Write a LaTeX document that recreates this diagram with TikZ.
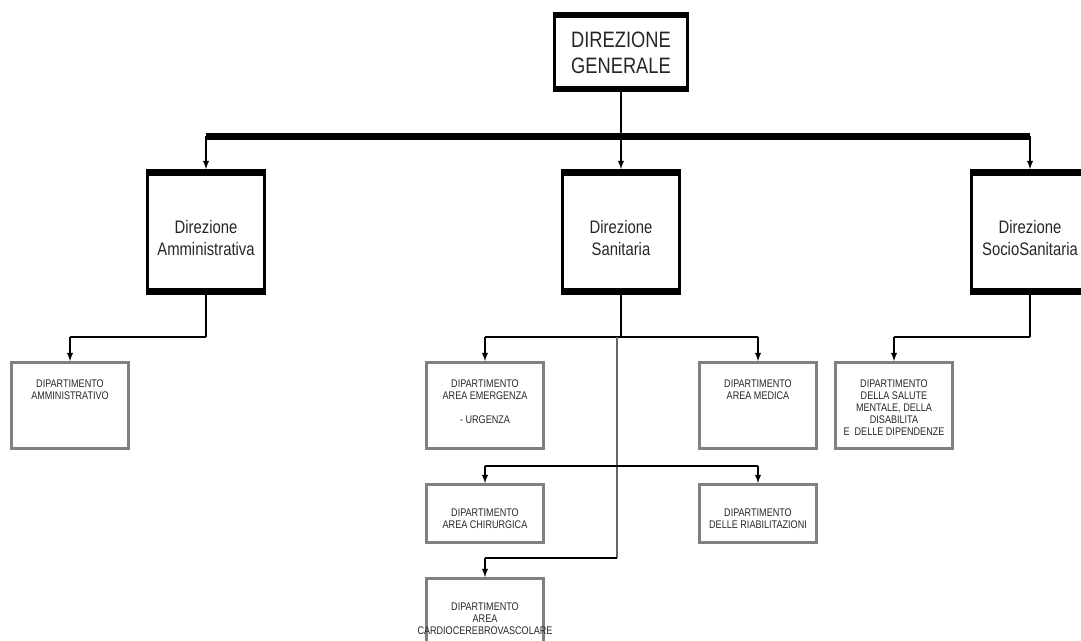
\documentclass[tikz,border=0pt]{standalone}
\usepackage{fontspec}
\newfontfamily\orgfont[FakeStretch=0.82]{Liberation Sans}
\usepackage{tikz}
\usetikzlibrary{calc}
\usetikzlibrary{arrows}

\newcommand{\boxtext}[4]{\parbox[c][#1][t]{#2}{\centering\vspace*{#3}#4}}

\begin{document}
\begin{tikzpicture}[x=0.02cm,y=-0.02cm]
    \tikzstyle{every node}=[inner sep=0pt,text=black!85]
    \tikzstyle{topbox}=[draw=black,line width=0.06cm,minimum width=2.66cm,minimum height=1.54cm,font=\orgfont\fontsize{12.7}{14.8}\selectfont]
    \tikzstyle{dirbox}=[draw=black,line width=0.06cm,minimum width=2.36cm,minimum height=2.46cm,font=\orgfont\fontsize{10.3}{12.4}\selectfont]
    \tikzstyle{deptbox}=[draw=black!50,line width=0.06cm,minimum width=2.34cm,font=\orgfont\fontsize{6.3}{6.8}\selectfont]
    \tikzstyle{stem}=[draw=black,line width=0.05cm]
    \tikzstyle{hline}=[draw=black,line width=0.045cm]
    \tikzstyle{drop}=[draw=black,line width=0.6pt,-latex]
    \tikzstyle{spine}=[draw=black!60,line width=0.03cm]

    \clip (0,0) rectangle (1081,641);

    \node[topbox] (dg) at (621,52) {\boxtext{1.54cm}{2.6cm}{0.37cm}{DIREZIONE\\GENERALE}} ;

    \node[dirbox] (da)  at (206,232)  {\boxtext{2.46cm}{2.3cm}{1.0cm}{Direzione\\Amministrativa}} ;
    \node[dirbox] (ds)  at (621,232)  {\boxtext{2.46cm}{2.3cm}{1.0cm}{Direzione\\Sanitaria}} ;
    \node[dirbox] (dss) at (1030,232) {\boxtext{2.46cm}{2.3cm}{1.0cm}{Direzione\\SocioSanitaria}} ;

    \node[deptbox] (amm)    at (70,405.5)  {\boxtext{1.72cm}{2.3cm}{0.35cm}{DIPARTIMENTO\\AMMINISTRATIVO}} ;
    \node[deptbox] (emerg)  at (485,405.5) {\boxtext{1.72cm}{2.3cm}{0.35cm}{DIPARTIMENTO\\AREA EMERGENZA\\[6.8pt]- URGENZA}} ;
    \node[deptbox] (medica) at (758,405.5) {\boxtext{1.72cm}{2.3cm}{0.35cm}{DIPARTIMENTO\\AREA MEDICA}} ;
    \node[deptbox] (salute) at (894,405.5) {\boxtext{1.72cm}{2.3cm}{0.35cm}{DIPARTIMENTO\\DELLA SALUTE\\MENTALE, DELLA\\DISABILITA\\E~ DELLE DIPENDENZE}} ;
    \node[deptbox] (chir)   at (485,513.5) {\boxtext{1.16cm}{2.3cm}{0.49cm}{DIPARTIMENTO\\AREA CHIRURGICA}} ;
    \node[deptbox] (riab)   at (758,513.5) {\boxtext{1.16cm}{2.3cm}{0.49cm}{DIPARTIMENTO\\DELLE RIABILITAZIONI}} ;
    \node[deptbox] (cardio) at (485,621.5) {\boxtext{1.72cm}{2.3cm}{0.49cm}{DIPARTIMENTO\\AREA\\\makebox[\linewidth][c]{CARDIOCEREBROVASCOLARE}}} ;

    \newcommand{\bands}[2]{%
      \fill ([yshift=0.01cm]#1.north west) rectangle ([yshift=-#2]#1.north east) ;
      \fill ([yshift=-0.01cm]#1.south west) rectangle ([yshift=#2]#1.south east) ;}

    \bands{dg}{0.11cm}
    \foreach \n in {da,ds,dss} {\bands{\n}{0.14cm}}

    % first level
    \coordinate (tb) at (621,136.5) ;
    \draw[stem] (dg.south) -- (dg.south |- tb) ;
    \draw[line width=0.14cm] (da.north |- tb) -- (dss.north |- tb) ;
    \foreach \n in {da,ds,dss} {\draw[drop] (\n.north |- tb) -- (\n.north) ;}

    % second level
    \coordinate (daj)  at (206,337) ;
    \coordinate (dsj)  at (621,337) ;
    \coordinate (dssj) at (1030,337) ;
    \draw[stem] (da.south) -- (daj) ;
    \draw[stem] (ds.south) -- (dsj) ;
    \draw[stem] (dss.south) -- (dssj) ;
    \draw[hline] (daj) -- (amm.north |- daj) ;
    \draw[hline] (emerg.north |- dsj) -- (medica.north |- dsj) ;
    \draw[hline] (dssj) -- (salute.north |- dssj) ;
    \draw[drop] (amm.north |- daj) -- (amm.north) ;
    \draw[drop] (emerg.north |- dsj) -- (emerg.north) ;
    \draw[drop] (medica.north |- dsj) -- (medica.north) ;
    \draw[drop] (salute.north |- dssj) -- (salute.north) ;

    % sanitaria spine
    \coordinate (sp1) at (617,337) ;
    \coordinate (rj)  at (617,466) ;
    \coordinate (sp2) at (617,558) ;
    \draw[spine] (sp1) -- (sp2) ;
    \draw[hline] (chir.north |- rj) -- (riab.north |- rj) ;
    \draw[drop] (chir.north |- rj) -- (chir.north) ;
    \draw[drop] (riab.north |- rj) -- (riab.north) ;
    \draw[hline] (sp2) -- (cardio.north |- sp2) ;
    \draw[drop] (cardio.north |- sp2) -- (cardio.north) ;

\end{tikzpicture}
\end{document}
